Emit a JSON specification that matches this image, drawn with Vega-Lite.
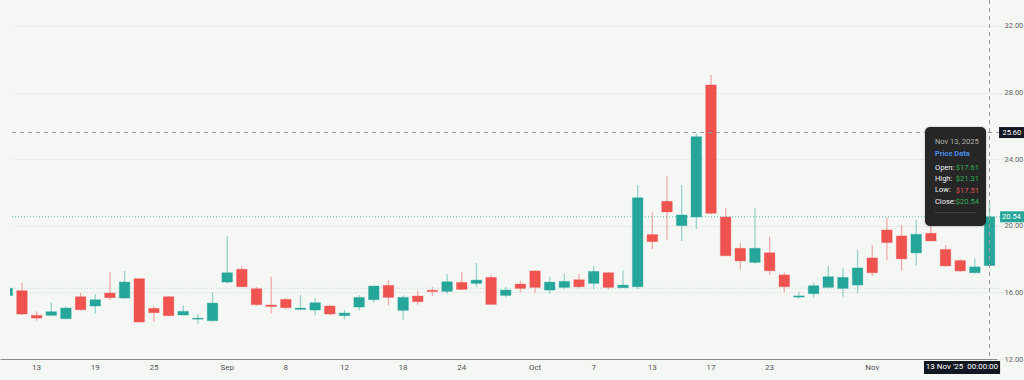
{
  "$schema": "https://vega.github.io/schema/vega-lite/v6.json",
  "width": 990,
  "height": 359,
  "autosize": {"type": "none"},
  "padding": {"left": 10, "top": 0, "right": 24, "bottom": 21},
  "background": "#f5f7f5",
  "config": {
    "view": {"stroke": null},
    "font": "Roboto",
    "axis": {"labelFont": "Roboto", "titleFont": "Roboto"}
  },
  "datasets": {
    "ohlc": [
      {"date": "2025-08-11", "open": 15.81, "high": 16.35, "low": 15.75, "close": 16.25},
      {"date": "2025-08-12", "open": 16.10, "high": 16.58, "low": 14.64, "close": 14.70},
      {"date": "2025-08-13", "open": 14.62, "high": 14.86, "low": 14.30, "close": 14.46},
      {"date": "2025-08-14", "open": 14.62, "high": 15.41, "low": 14.58, "close": 14.84},
      {"date": "2025-08-15", "open": 14.42, "high": 15.16, "low": 14.38, "close": 15.06},
      {"date": "2025-08-18", "open": 15.74, "high": 15.98, "low": 14.90, "close": 14.96},
      {"date": "2025-08-19", "open": 15.18, "high": 15.89, "low": 14.74, "close": 15.56},
      {"date": "2025-08-20", "open": 15.96, "high": 17.21, "low": 15.56, "close": 15.68},
      {"date": "2025-08-21", "open": 15.66, "high": 17.29, "low": 15.62, "close": 16.62},
      {"date": "2025-08-22", "open": 16.82, "high": 16.85, "low": 14.20, "close": 14.22},
      {"date": "2025-08-25", "open": 15.04, "high": 15.18, "low": 14.22, "close": 14.78},
      {"date": "2025-08-26", "open": 15.74, "high": 15.76, "low": 14.58, "close": 14.60},
      {"date": "2025-08-27", "open": 14.64, "high": 15.22, "low": 14.62, "close": 14.86},
      {"date": "2025-08-28", "open": 14.39, "high": 14.68, "low": 14.10, "close": 14.45},
      {"date": "2025-08-29", "open": 14.30, "high": 16.00, "low": 14.26, "close": 15.36},
      {"date": "2025-09-02", "open": 16.62, "high": 19.39, "low": 16.54, "close": 17.18},
      {"date": "2025-09-03", "open": 17.39, "high": 17.59, "low": 16.32, "close": 16.34},
      {"date": "2025-09-04", "open": 16.22, "high": 16.32, "low": 15.20, "close": 15.26},
      {"date": "2025-09-05", "open": 15.24, "high": 16.94, "low": 14.74, "close": 15.15},
      {"date": "2025-09-08", "open": 15.58, "high": 15.66, "low": 14.98, "close": 15.08},
      {"date": "2025-09-09", "open": 14.98, "high": 15.82, "low": 14.96, "close": 15.06},
      {"date": "2025-09-10", "open": 14.94, "high": 15.66, "low": 14.62, "close": 15.38},
      {"date": "2025-09-11", "open": 15.18, "high": 15.26, "low": 14.64, "close": 14.70},
      {"date": "2025-09-12", "open": 14.60, "high": 14.94, "low": 14.38, "close": 14.76},
      {"date": "2025-09-15", "open": 15.12, "high": 15.84, "low": 14.90, "close": 15.70},
      {"date": "2025-09-16", "open": 15.56, "high": 16.40, "low": 15.38, "close": 16.38},
      {"date": "2025-09-17", "open": 16.42, "high": 16.74, "low": 15.22, "close": 15.70},
      {"date": "2025-09-18", "open": 14.92, "high": 15.82, "low": 14.34, "close": 15.70},
      {"date": "2025-09-19", "open": 15.78, "high": 16.12, "low": 15.26, "close": 15.44},
      {"date": "2025-09-22", "open": 16.13, "high": 16.32, "low": 15.78, "close": 16.05},
      {"date": "2025-09-23", "open": 16.06, "high": 17.10, "low": 15.92, "close": 16.64},
      {"date": "2025-09-24", "open": 16.60, "high": 17.22, "low": 16.16, "close": 16.18},
      {"date": "2025-09-25", "open": 16.54, "high": 17.77, "low": 16.34, "close": 16.74},
      {"date": "2025-09-26", "open": 16.90, "high": 17.06, "low": 15.26, "close": 15.28},
      {"date": "2025-09-29", "open": 15.82, "high": 16.34, "low": 15.70, "close": 16.14},
      {"date": "2025-09-30", "open": 16.50, "high": 16.70, "low": 16.00, "close": 16.24},
      {"date": "2025-10-01", "open": 17.29, "high": 17.32, "low": 15.98, "close": 16.30},
      {"date": "2025-10-02", "open": 16.14, "high": 16.94, "low": 15.90, "close": 16.62},
      {"date": "2025-10-03", "open": 16.30, "high": 17.10, "low": 16.18, "close": 16.66},
      {"date": "2025-10-06", "open": 16.76, "high": 17.12, "low": 16.22, "close": 16.34},
      {"date": "2025-10-07", "open": 16.54, "high": 17.59, "low": 16.18, "close": 17.26},
      {"date": "2025-10-08", "open": 17.18, "high": 17.22, "low": 16.20, "close": 16.30},
      {"date": "2025-10-09", "open": 16.28, "high": 17.31, "low": 16.26, "close": 16.44},
      {"date": "2025-10-10", "open": 16.34, "high": 22.45, "low": 16.20, "close": 21.69},
      {"date": "2025-10-13", "open": 19.47, "high": 20.81, "low": 18.61, "close": 19.05},
      {"date": "2025-10-14", "open": 21.47, "high": 22.99, "low": 19.15, "close": 20.83},
      {"date": "2025-10-15", "open": 20.01, "high": 22.45, "low": 19.09, "close": 20.65},
      {"date": "2025-10-16", "open": 20.53, "high": 25.51, "low": 19.81, "close": 25.35},
      {"date": "2025-10-17", "open": 28.46, "high": 29.06, "low": 20.70, "close": 20.75},
      {"date": "2025-10-20", "open": 20.53, "high": 21.05, "low": 18.18, "close": 18.20},
      {"date": "2025-10-21", "open": 18.65, "high": 18.95, "low": 17.38, "close": 17.89},
      {"date": "2025-10-22", "open": 17.80, "high": 21.05, "low": 17.74, "close": 18.65},
      {"date": "2025-10-23", "open": 18.38, "high": 19.35, "low": 17.05, "close": 17.30},
      {"date": "2025-10-24", "open": 17.05, "high": 17.21, "low": 16.00, "close": 16.34},
      {"date": "2025-10-27", "open": 15.72, "high": 16.04, "low": 15.64, "close": 15.79},
      {"date": "2025-10-28", "open": 15.92, "high": 16.58, "low": 15.68, "close": 16.40},
      {"date": "2025-10-29", "open": 16.30, "high": 17.59, "low": 16.20, "close": 16.94},
      {"date": "2025-10-30", "open": 16.24, "high": 17.45, "low": 15.74, "close": 16.90},
      {"date": "2025-10-31", "open": 16.44, "high": 18.55, "low": 15.94, "close": 17.47},
      {"date": "2025-11-03", "open": 18.07, "high": 18.83, "low": 16.98, "close": 17.18},
      {"date": "2025-11-04", "open": 19.75, "high": 20.49, "low": 17.91, "close": 18.99},
      {"date": "2025-11-05", "open": 19.39, "high": 20.05, "low": 17.30, "close": 18.01},
      {"date": "2025-11-06", "open": 18.37, "high": 20.35, "low": 17.60, "close": 19.49},
      {"date": "2025-11-07", "open": 19.55, "high": 20.00, "low": 19.05, "close": 19.09},
      {"date": "2025-11-10", "open": 18.58, "high": 18.85, "low": 17.55, "close": 17.59},
      {"date": "2025-11-11", "open": 17.91, "high": 18.00, "low": 17.23, "close": 17.29},
      {"date": "2025-11-12", "open": 17.18, "high": 18.05, "low": 17.15, "close": 17.53},
      {"date": "2025-11-13", "open": 17.61, "high": 21.31, "low": 17.51, "close": 20.54}
    ]
  },
  "layer": [
    {
      "data": {"name": "ohlc"},
      "mark": {"type": "rule", "strokeWidth": 1.3, "opacity": 0.45, "clip": true},
      "encoding": {
        "x": {
          "field": "date",
          "type": "ordinal",
          "scale": {"range": [-10.03, 986.85], "paddingInner": 0, "paddingOuter": 0},
          "axis": {
            "title": null,
            "orient": "bottom",
            "ticks": false,
            "grid": false,
            "domain": true,
            "domainColor": "#8c8c8c",
            "domainWidth": 1,
            "labelAngle": 0,
            "labelFontSize": 8,
            "labelColor": "#555555",
            "labelPadding": 4,
            "labelOverlap": false,
            "labelFlush": false,
            "labelExpr": "indexof(['2025-08-13','2025-08-19','2025-08-25','2025-09-08','2025-09-12','2025-09-18','2025-09-24','2025-10-07','2025-10-13','2025-10-17','2025-10-23'], datum.value) >= 0 ? '' + toNumber(substring(datum.value, 8, 10)) : datum.value == '2025-09-02' ? 'Sep' : datum.value == '2025-10-01' ? 'Oct' : datum.value == '2025-11-03' ? 'Nov' : ''"
          }
        },
        "y": {
          "field": "low",
          "type": "quantitative",
          "scale": {"domain": [12, 33.56], "nice": false, "zero": false},
          "axis": {
            "title": null,
            "orient": "right",
            "values": [12, 14, 16, 18, 20, 22, 24, 26, 28, 30, 32],
            "format": ".2f",
            "ticks": false,
            "domain": false,
            "grid": true,
            "gridColor": "#e8ebe8",
            "gridWidth": 1,
            "labelFontSize": 7.5,
            "labelColor": "#666666",
            "labelPadding": 4
          }
        },
        "y2": {"field": "high"},
        "color": {"condition": {"test": "datum.close >= datum.open", "value": "#26a69a"}, "value": "#ef5350"}
      }
    },
    {
      "data": {"values": [{}]},
      "mark": {"type": "rule", "color": "#b5d9d2", "strokeDash": [1, 2], "strokeWidth": 1},
      "encoding": {"y": {"datum": 16.25, "type": "quantitative"}}
    },
    {
      "data": {"values": [{}]},
      "mark": {"type": "rule", "color": "#26a69a", "strokeDash": [1, 2], "strokeWidth": 1, "opacity": 0.7},
      "encoding": {"y": {"datum": 20.54, "type": "quantitative"}}
    },
    {
      "data": {"name": "ohlc"},
      "mark": {"type": "bar", "width": {"band": 0.72}, "clip": true, "strokeWidth": 1, "strokeOpacity": 0.35},
      "encoding": {
        "x": {"field": "date", "type": "ordinal"},
        "y": {"field": "open", "type": "quantitative"},
        "y2": {"field": "close"},
        "fill": {"condition": {"test": "datum.close >= datum.open", "value": "#26a69a"}, "value": "#ef5350"},
        "stroke": {"condition": {"test": "datum.close >= datum.open", "value": "#26a69a"}, "value": "#ef5350"}
      }
    },
    {
      "data": {"values": [{}]},
      "mark": {"type": "rule", "color": "#9a9a9a", "strokeDash": [4, 4], "strokeWidth": 1},
      "encoding": {"y": {"datum": 25.6, "type": "quantitative"}}
    },
    {
      "data": {"values": [{}]},
      "mark": {"type": "rule", "color": "#9a9a9a", "strokeDash": [4, 4], "strokeWidth": 1},
      "encoding": {"x": {"datum": "2025-11-13", "type": "ordinal"}}
    },
    {
      "data": {"values": [{}]},
      "mark": {"type": "rect", "fill": "#000000", "cornerRadius": 6, "opacity": 0.08},
      "encoding": {
        "x": {"datum": "2025-11-07", "type": "ordinal", "bandPosition": 0.0},
        "x2": {"datum": "2025-11-13", "bandPosition": 0.36},
        "y": {"datum": 25.99, "type": "quantitative"},
        "y2": {"datum": 19.88}
      }
    },
    {
      "data": {"values": [{}]},
      "mark": {"type": "rect", "fill": "#1e1e1e", "cornerRadius": 5, "opacity": 0.96},
      "encoding": {
        "x": {"datum": "2025-11-07", "type": "ordinal", "bandPosition": 0.1},
        "x2": {"datum": "2025-11-13", "bandPosition": 0.26},
        "y": {"datum": 25.93, "type": "quantitative"},
        "y2": {"datum": 19.99}
      }
    },
    {
      "data": {"values": [{}]},
      "mark": {"type": "text", "text": "Nov 13, 2025", "align": "left", "baseline": "middle", "fontSize": 7.5, "color": "#b0b0b0"},
      "encoding": {
        "x": {"datum": "2025-11-07", "type": "ordinal", "bandPosition": 0.78},
        "y": {"datum": 25.04, "type": "quantitative"}
      }
    },
    {
      "data": {"values": [{}]},
      "mark": {"type": "text", "text": "Price Data", "align": "left", "baseline": "middle", "fontSize": 7.5, "fontWeight": "bold", "color": "#4a8fe7"},
      "encoding": {
        "x": {"datum": "2025-11-07", "type": "ordinal", "bandPosition": 0.78},
        "y": {"datum": 24.29, "type": "quantitative"}
      }
    },
    {
      "data": {"values": [{}]},
      "mark": {"type": "text", "text": ["Open:", "High:", "Low:", "Close:"], "lineHeight": 11.35, "align": "left", "baseline": "middle", "fontSize": 7.5, "fontWeight": "normal", "color": "#f0f0f0"},
      "encoding": {
        "x": {"datum": "2025-11-07", "type": "ordinal", "bandPosition": 0.78},
        "y": {"datum": 23.49, "type": "quantitative"}
      }
    },
    {
      "data": {"values": [{}]},
      "mark": {"type": "text", "text": "$17.61", "align": "left", "baseline": "middle", "fontSize": 7.5, "color": "#2fb457"},
      "encoding": {
        "x": {"datum": "2025-11-11", "type": "ordinal", "bandPosition": 0.2},
        "y": {"datum": 23.49, "type": "quantitative"}
      }
    },
    {
      "data": {"values": [{}]},
      "mark": {"type": "text", "text": "$21.31", "align": "left", "baseline": "middle", "fontSize": 7.5, "color": "#2fb457"},
      "encoding": {
        "x": {"datum": "2025-11-11", "type": "ordinal", "bandPosition": 0.2},
        "y": {"datum": 22.81, "type": "quantitative"}
      }
    },
    {
      "data": {"values": [{}]},
      "mark": {"type": "text", "text": "$17.51", "align": "left", "baseline": "middle", "fontSize": 7.5, "color": "#e05252"},
      "encoding": {
        "x": {"datum": "2025-11-11", "type": "ordinal", "bandPosition": 0.2},
        "y": {"datum": 22.11, "type": "quantitative"}
      }
    },
    {
      "data": {"values": [{}]},
      "mark": {"type": "text", "text": "$20.54", "align": "left", "baseline": "middle", "fontSize": 7.5, "color": "#2fb457"},
      "encoding": {
        "x": {"datum": "2025-11-11", "type": "ordinal", "bandPosition": 0.2},
        "y": {"datum": 21.45, "type": "quantitative"}
      }
    },
    {
      "data": {"values": [{}]},
      "mark": {"type": "rule", "color": "#454545", "strokeWidth": 1},
      "encoding": {
        "x": {"datum": "2025-11-07", "type": "ordinal", "bandPosition": 0.78},
        "x2": {"datum": "2025-11-12", "bandPosition": 0.57},
        "y": {"datum": 20.79, "type": "quantitative"}
      }
    },
    {
      "data": {"values": [{}]},
      "mark": {"type": "rect", "fill": "#131722"},
      "encoding": {
        "x": {"datum": "2025-11-13", "type": "ordinal", "bandPosition": 1.15},
        "x2": {"datum": "2025-11-13", "bandPosition": 2.9},
        "y": {"datum": 25.93, "type": "quantitative"},
        "y2": {"datum": 25.27}
      }
    },
    {
      "data": {"values": [{}]},
      "mark": {"type": "text", "text": "25.60", "align": "left", "baseline": "middle", "fontSize": 7.5, "color": "#ffffff"},
      "encoding": {
        "x": {"datum": "2025-11-13", "type": "ordinal", "bandPosition": 1.38},
        "y": {"datum": 25.6, "type": "quantitative"}
      }
    },
    {
      "data": {"values": [{}]},
      "mark": {"type": "rect", "fill": "#26a69a"},
      "encoding": {
        "x": {"datum": "2025-11-13", "type": "ordinal", "bandPosition": 1.22},
        "x2": {"datum": "2025-11-13", "bandPosition": 2.9},
        "y": {"datum": 20.87, "type": "quantitative"},
        "y2": {"datum": 20.21}
      }
    },
    {
      "data": {"values": [{}]},
      "mark": {"type": "text", "text": "20.54", "align": "left", "baseline": "middle", "fontSize": 7.5, "color": "#ffffff"},
      "encoding": {
        "x": {"datum": "2025-11-13", "type": "ordinal", "bandPosition": 1.35},
        "y": {"datum": 20.54, "type": "quantitative"}
      }
    },
    {
      "data": {"values": [{}]},
      "mark": {"type": "rect", "fill": "#131722"},
      "encoding": {
        "x": {"datum": "2025-11-07", "type": "ordinal", "bandPosition": 0.03},
        "x2": {"datum": "2025-11-13", "bandPosition": 1.22},
        "y": {"datum": 11.88, "type": "quantitative"},
        "y2": {"datum": 11.1}
      }
    },
    {
      "data": {"values": [{}]},
      "mark": {"type": "text", "text": "13 Nov '25\u00a0\u00a000:00:00", "align": "center", "baseline": "middle", "fontSize": 8, "color": "#ffffff"},
      "encoding": {
        "x": {"datum": "2025-11-11", "type": "ordinal", "bandPosition": 0.62},
        "y": {"datum": 11.49, "type": "quantitative"}
      }
    }
  ]
}
